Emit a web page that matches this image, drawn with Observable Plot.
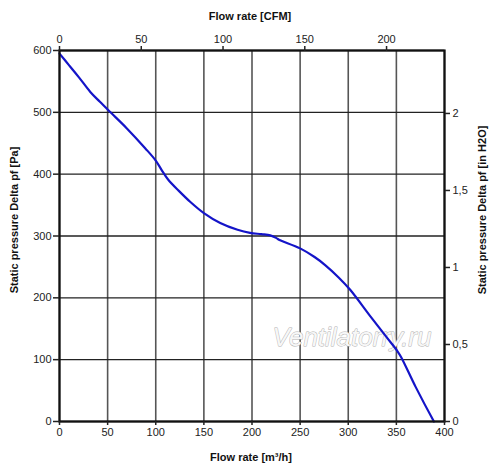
<!DOCTYPE html>
<html>
<head>
<meta charset="utf-8">
<script src="https://cdn.jsdelivr.net/npm/d3@7"></script>
<script src="https://cdn.jsdelivr.net/npm/@observablehq/plot@0.6"></script>
<style>
  html, body { margin: 0; padding: 0; background: #fff; }
  #chart svg { display: block; }
</style>
</head>
<body>
<div id="chart"></div>
<script>
// Curve data: flow rate [m³/h] vs static pressure [Pa]
const flowRate = [0, 10, 20, 32, 42, 53, 70, 89, 100, 106, 113, 124, 136, 150, 167, 185, 198, 210, 219, 225, 228, 250, 265, 276, 290, 302, 323, 340, 351, 355, 370, 389];
const pressure = [595, 576, 557, 533, 517, 500, 474, 442, 422, 407, 391, 373, 355, 337, 321, 310, 305, 303, 301, 297, 294, 280, 266, 253, 233, 213, 170, 136, 114, 104, 56, 0];

// Axis ticks
const xTicks = [0, 50, 100, 150, 200, 250, 300, 350, 400];      // m³/h
const yTicks = [0, 100, 200, 300, 400, 500, 600];               // Pa
const cfmTicks = [0, 50, 100, 150, 200];                        // CFM
const inH2OTicks = [0, 0.5, 1, 1.5, 2];                         // in H2O
const cfmToM3h = 1.699;
const inH2OToPa = 249.09;

const titles = {
  bottom: "Flow rate [m³/h]",
  top: "Flow rate [CFM]",
  left: "Static pressure Delta pf [Pa]",
  right: "Static pressure Delta pf [in H2O]"
};
const watermark = ["Ventilatorry.ru"];

const data = flowRate.map((q, i) => ({q, p: pressure[i]}));

const W = 500, H = 474;
const chart = Plot.plot({
  width: W,
  height: H,
  marginLeft: 59,
  marginRight: 56,
  marginTop: 50,
  marginBottom: 53,
  style: {fontFamily: "'Liberation Sans', Arial, sans-serif", fontSize: "11px", color: "#222", background: "#fff"},
  x: {domain: [0, 400]},
  y: {domain: [0, 600]},
  marks: [
    Plot.gridX(xTicks, {stroke: "#555", strokeOpacity: 1, strokeWidth: 1.6}),
    Plot.gridY(yTicks, {stroke: "#222", strokeOpacity: 1, strokeWidth: 1.4}),
    Plot.text(watermark, {frameAnchor: "bottom-right", dx: -13, dy: -76, text: d => d,
      fontSize: 26, fontStyle: "italic", fill: "#f7f7f7", stroke: "#b0b0b0", strokeWidth: 0.9,
      fontFamily: "'Liberation Sans', Arial, sans-serif"}),
    Plot.line(data, {x: "q", y: "p", stroke: "#1414c8", strokeWidth: 2.2, curve: "catmull-rom"}),
    Plot.frame({stroke: "#111", strokeWidth: 2.2}),
    Plot.axisX(xTicks, {anchor: "bottom", tickSize: 4, tickPadding: 3, label: null, tickFormat: d => d, strokeWidth: 1.5}),
    Plot.axisX(cfmTicks.map(c => c * cfmToM3h), {anchor: "top", tickSize: 5, tickPadding: 3, label: null,
      tickFormat: d => String(Math.round(d / cfmToM3h)), strokeWidth: 1.5}),
    Plot.axisY(yTicks, {anchor: "left", tickSize: 6, tickPadding: 2, label: null, tickFormat: d => d, strokeWidth: 1.5}),
    Plot.axisY(inH2OTicks.map(v => v * inH2OToPa), {anchor: "right", tickSize: 5, tickPadding: 3, label: null,
      tickFormat: d => String(Math.round(d / inH2OToPa * 10) / 10).replace(".", ","), strokeWidth: 1.5})
  ]
});

const svg = d3.select(chart);
const addTitle = (text, x, y, rotate) => {
  svg.append("text")
    .attr("transform", `translate(${x},${y})` + (rotate ? ` rotate(${rotate})` : ""))
    .attr("text-anchor", "middle")
    .attr("font-family", "'Liberation Sans', Arial, sans-serif")
    .attr("font-size", 11)
    .attr("font-weight", "bold")
    .attr("fill", "#111")
    .text(text);
};
addTitle(titles.top, 250, 20, 0);
addTitle(titles.bottom, 251, 461, 0);
addTitle(titles.left, 18, 220, -90);
addTitle(titles.right, 486, 210, -90);

document.getElementById("chart").appendChild(chart);
</script>
</body>
</html>
